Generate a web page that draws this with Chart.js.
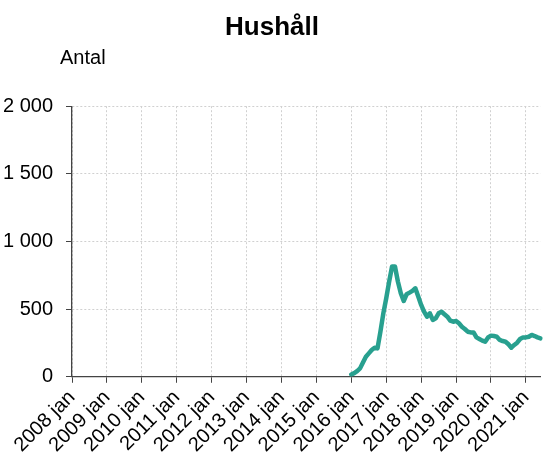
<!DOCTYPE html>
<html>
<head>
<meta charset="utf-8">
<script src="https://cdn.jsdelivr.net/npm/chart.js@4"></script>
<style>
  html, body { margin: 0; padding: 0; background: #fff; }
  #wrap { width: 546px; height: 461px; }
</style>
</head>
<body>
<div id="wrap"><canvas id="hushall" width="546" height="461"></canvas></div>
<script>
// months shown on the x axis, jan only gets a label
const years = [2008, 2009, 2010, 2011, 2012, 2013, 2014, 2015, 2016, 2017, 2018, 2019, 2020, 2021]
const months = ['jan', 'feb', 'mar', 'apr', 'maj', 'jun', 'jul', 'aug', 'sep', 'okt', 'nov', 'dec']
const lastMonth = '2021 jun'
const firstValue = '2016 jan'

// antal hushåll per month from 2016 jan
const antal = [
  17, 27, 42, 62, 106, 148, 173, 198, 215, 210, 333, 469,
  580, 704, 815, 815, 704, 617, 560, 610, 622, 635, 654, 593,
  531, 481, 444, 469, 420, 432, 469, 481, 462, 444, 415, 407,
  412, 395, 370, 353, 333, 328, 328, 291, 279, 267, 259, 291,
  304, 301, 296, 272, 264, 259, 240, 215, 235, 252, 279, 291,
  291, 296, 309, 301, 291, 284
]

const yTicks = [0, 500, 1000, 1500, 2000]

var labels = []
for (const y of years) {
    for (const m of months) {
        labels.push(y + ' ' + m)
        if (y + ' ' + m == lastMonth) break
    }
}

var series = labels.map(() => null)
var start = labels.indexOf(firstValue)
antal.forEach((v, i) => { series[start + i] = v })

const unitLabel = {
    id: 'unitLabel',
    afterDraw(chart) {
        const ctx = chart.ctx
        ctx.save()
        ctx.font = '20px "Liberation Sans", Arial, sans-serif'
        ctx.fillStyle = '#000'
        ctx.textBaseline = 'middle'
        ctx.fillText('Antal', chart.chartArea.left - 12, chart.chartArea.top - 48)
        ctx.restore()
    }
}

Chart.defaults.font.family = '"Liberation Sans", Arial, sans-serif'
Chart.defaults.color = '#000'

var ctx = document.getElementById('hushall').getContext('2d')
var chart = new Chart(ctx, {
    type: 'line',
    data: {
        labels: labels,
        datasets: [{
            label: 'Hushåll',
            data: series,
            borderColor: '#28a08f',
            borderWidth: 4.5,
            pointRadius: 0,
            tension: 0,
            borderCapStyle: 'round',
            borderJoinStyle: 'round'
        }]
    },
    options: {
        responsive: false,
        animation: false,
        layout: { padding: { top: 0, right: 4, left: 2, bottom: 1 } },
        plugins: {
            legend: { display: false },
            tooltip: { enabled: false },
            title: {
                display: true,
                text: 'Hushåll',
                font: { size: 26, weight: 'bold' },
                color: '#000',
                padding: { top: 12, bottom: 63 }
            }
        },
        scales: {
            x: {
                type: 'category',
                offset: false,
                grid: {
                    color: '#d0d0d0',
                    tickColor: '#444',
                    tickLength: 6,
                    tickBorderDash: []
                },
                border: { color: '#444', width: 1.3, dash: [2, 2] },
                // rotated labels may hang past the y axis, no extra room needed
                afterFit: (axis) => { axis.paddingLeft = 0 },
                ticks: {
                    autoSkip: false,
                    minRotation: 45,
                    maxRotation: 45,
                    font: { size: 20 },
                    padding: 3,
                    callback: function(val) {
                        var l = this.getLabelForValue(val)
                        return l.endsWith(' jan') ? l : null
                    }
                }
            },
            y: {
                min: 0,
                max: 2000,
                grid: {
                    color: '#d0d0d0',
                    tickColor: '#444',
                    tickLength: 6,
                    tickBorderDash: []
                },
                border: { color: '#444', width: 1.3, dash: [2, 2] },
                afterBuildTicks: (axis) => { axis.ticks = yTicks.map(v => ({ value: v })) },
                afterFit: (axis) => { axis.width = 70 },
                ticks: {
                    font: { size: 20 },
                    padding: 13,
                    callback: (v) => String(v).replace(/\B(?=(\d{3})+(?!\d))/g, ' ')
                }
            }
        }
    },
    plugins: [unitLabel]
})
</script>
</body>
</html>
